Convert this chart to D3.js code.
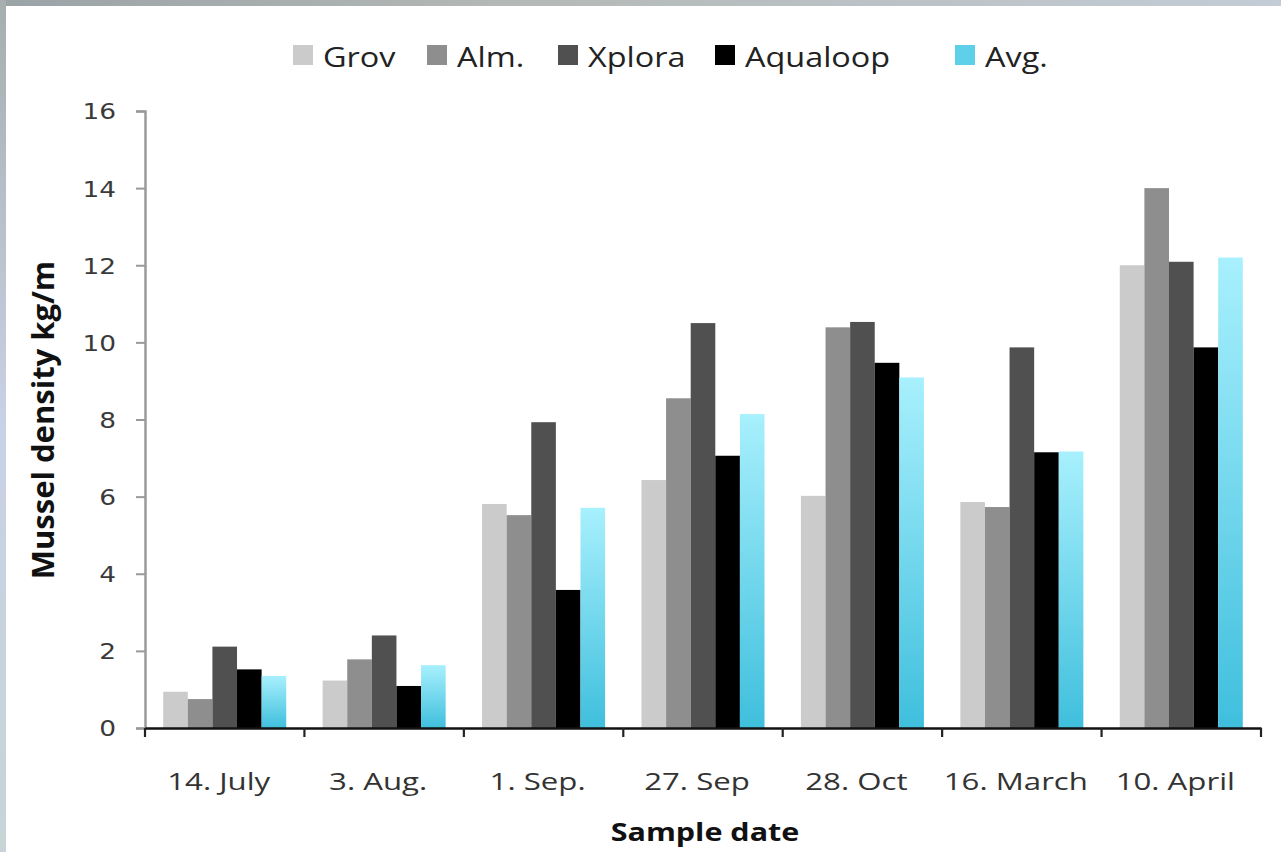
<!DOCTYPE html>
<html>
<head>
<meta charset="utf-8">
<script src="https://cdn.jsdelivr.net/npm/d3@7"></script>
<style>
  html, body { margin: 0; padding: 0; background: #ffffff; }
  svg { display: block; }
</style>
</head>
<body>
<svg id="chart" width="1281" height="852"></svg>
<script>
const categories = ["14. July", "3. Aug.", "1. Sep.", "27. Sep", "28. Oct", "16. March", "10. April"];
const seriesNames = ["Grov", "Alm.", "Xplora", "Aqualoop", "Avg."];
const grov     = [0.94, 1.23, 5.81, 6.43, 6.02, 5.86, 12.0];
const alm      = [0.75, 1.78, 5.52, 8.55, 10.39, 5.73, 14.0];
const xplora   = [2.11, 2.40, 7.93, 10.50, 10.53, 9.87, 12.09];
const aqualoop = [1.52, 1.09, 3.58, 7.06, 9.47, 7.15, 9.87];
const avg      = [1.35, 1.63, 5.71, 8.14, 9.09, 7.17, 12.2];
const yTicks   = [0, 2, 4, 6, 8, 10, 12, 14, 16];

(function () {
const seriesValues = [grov, alm, xplora, aqualoop, avg];
const colors = ["#cbcbcb", "#8e8e8e", "#505050", "#000000", "url(#avgGrad)"];
const legendColors = ["#cbcbcb", "#8e8e8e", "#505050", "#000000", "#5fd0ea"];

const svg = d3.select("#chart");
const defs = svg.append("defs");

const g1 = defs.append("linearGradient").attr("id", "avgGrad")
  .attr("x1", 0).attr("y1", 0).attr("x2", 0).attr("y2", 1);
g1.append("stop").attr("offset", "0%").attr("stop-color", "#a8f0fd");
g1.append("stop").attr("offset", "100%").attr("stop-color", "#3fbfdd");

const gTop = defs.append("linearGradient").attr("id", "topGrad")
  .attr("x1", 0).attr("y1", 0).attr("x2", 1).attr("y2", 0);
gTop.append("stop").attr("offset", "0%").attr("stop-color", "#9aa3a6");
gTop.append("stop").attr("offset", "40%").attr("stop-color", "#b4b8b6");
gTop.append("stop").attr("offset", "100%").attr("stop-color", "#c3ccd6");

const gLeft = defs.append("linearGradient").attr("id", "leftGrad")
  .attr("x1", 0).attr("y1", 0).attr("x2", 0).attr("y2", 1);
gLeft.append("stop").attr("offset", "0%").attr("stop-color", "#a7aeae");
gLeft.append("stop").attr("offset", "50%").attr("stop-color", "#c9d1e6");
gLeft.append("stop").attr("offset", "100%").attr("stop-color", "#c8d4d6");

// horizontal stretch of text around its anchor point
function stretch(sel, sx) {
  sel.each(function () {
    const t = d3.select(this);
    const x = +t.attr("x") || 0, y = +t.attr("y") || 0;
    const prev = t.attr("transform") || "";
    t.attr("x", 0).attr("y", 0)
     .attr("transform", `${prev} translate(${x},${y}) scale(${sx},1)`);
  });
}

// background frame
svg.append("rect").attr("x", 0).attr("y", 0).attr("width", 1281).attr("height", 852).attr("fill", "#ffffff");
svg.append("rect").attr("x", 0).attr("y", 0).attr("width", 1281).attr("height", 6).attr("fill", "url(#topGrad)");
svg.append("rect").attr("x", 0).attr("y", 0).attr("width", 6).attr("height", 852).attr("fill", "url(#leftGrad)");

const pLeft = 145, pRight = 1261, pTop = 111, pBottom = 728;

const x0 = d3.scaleBand().domain(categories).range([pLeft, pRight]).paddingInner(0).paddingOuter(0);
const x1 = d3.scaleBand().domain(seriesNames).range([0, x0.bandwidth()]).paddingInner(0).paddingOuter(0.74);
const y = d3.scaleLinear().domain([0, 16]).range([pBottom, pTop]);

// bars
seriesNames.forEach((s, si) => {
  svg.append("g").selectAll("rect")
    .data(categories.map((c, ci) => ({ c, v: seriesValues[si][ci] })))
    .join("rect")
    .attr("x", d => x0(d.c) + x1(s))
    .attr("y", d => y(d.v))
    .attr("width", x1.bandwidth())
    .attr("height", d => y(0) - y(d.v))
    .attr("fill", colors[si]);
});

// y axis
const yAxis = d3.axisLeft(y).tickValues(yTicks).tickSize(9).tickPadding(20).tickFormat(d3.format("d"));
const yg = svg.append("g").attr("transform", `translate(${pLeft},0)`).call(yAxis);
yg.select(".domain").attr("stroke", "#9a9a9a").attr("stroke-width", 2.5);
yg.selectAll(".tick line").attr("stroke", "#9a9a9a").attr("stroke-width", 2);
yg.selectAll(".tick text").attr("fill", "#3a3a3a").attr("dy", "0.36em")
  .style("font-family", "'DejaVu Sans', Verdana, sans-serif").style("font-size", "22px")
  .call(stretch, 1.2);

// x axis
const xAxis = d3.axisBottom(x0).tickSize(0).tickPadding(0);
const xg = svg.append("g").attr("transform", `translate(0,${pBottom})`).call(xAxis);
xg.select(".domain").attr("stroke", "#111").attr("stroke-width", 2.5);
xg.selectAll(".tick text").attr("fill", "#333").attr("x", -6).attr("y", 62).attr("dy", 0)
  .style("font-family", "'Open Sans', sans-serif").style("font-size", "24px")
  .call(stretch, 1.3);
const bounds = categories.map(c => x0(c)).concat([pRight]);
xg.append("g").selectAll("line").data(bounds).join("line")
  .attr("x1", d => d).attr("x2", d => d).attr("y1", 0).attr("y2", 9)
  .attr("stroke", "#222").attr("stroke-width", 2.2);

// axis titles
svg.append("text")
  .attr("transform", `translate(54,420) rotate(-90)`)
  .attr("text-anchor", "middle")
  .attr("fill", "#111")
  .style("font-family", "'Open Sans', sans-serif").style("font-weight", "bold").style("font-size", "31px")
  .text("Mussel density kg/m");

svg.append("text")
  .attr("x", 705).attr("y", 841)
  .attr("text-anchor", "middle")
  .attr("fill", "#111")
  .style("font-family", "'Open Sans', sans-serif").style("font-weight", "bold").style("font-size", "25px")
  .text("Sample date")
  .call(stretch, 1.22);

// legend
const legendTextX = [323, 457, 588, 745, 985];
const lg = svg.append("g");
seriesNames.forEach((s, i) => {
  lg.append("rect").attr("x", legendTextX[i] - 30).attr("y", 45).attr("width", 20).attr("height", 20)
    .attr("fill", legendColors[i]);
  lg.append("text").attr("x", legendTextX[i]).attr("y", 67)
    .attr("fill", "#222")
    .style("font-family", "'Open Sans', sans-serif").style("font-size", "27px")
    .text(s)
    .call(stretch, 1.2);
});
})();
</script>
</body>
</html>
